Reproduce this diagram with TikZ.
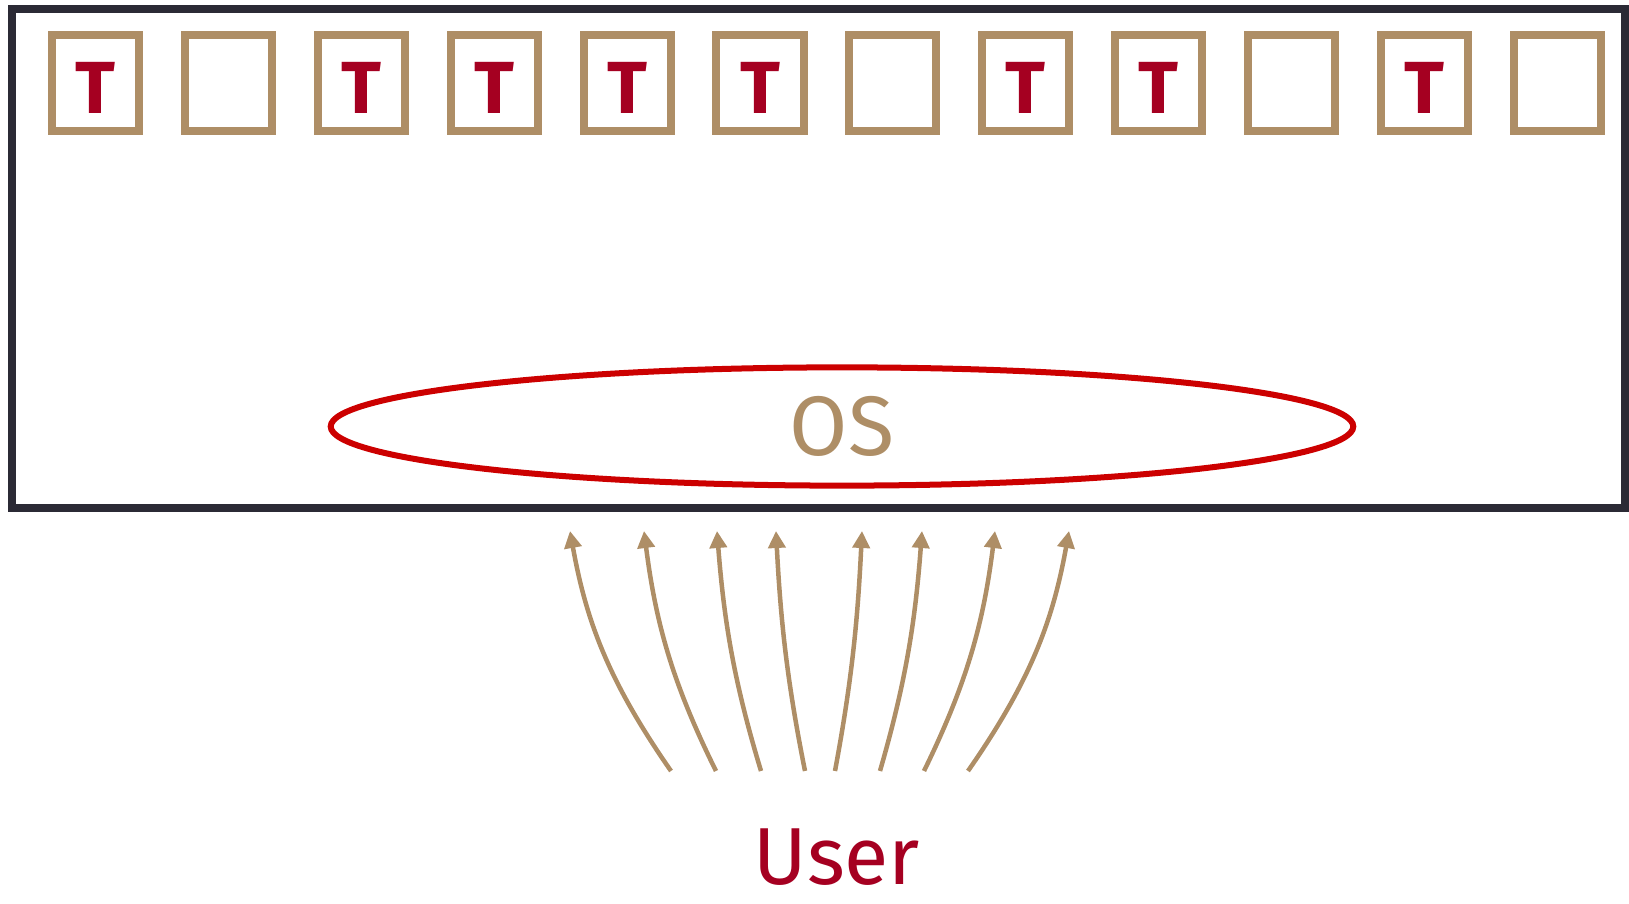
\documentclass[tikz,border=0pt]{standalone}
\usepackage{fontspec}
\setmainfont{Fira Sans}
\usetikzlibrary{arrows.meta,shapes.geometric}

\definecolor{framegray}{RGB}{43,42,53}
\definecolor{slotbrown}{RGB}{174,142,102}
\definecolor{osred}{RGB}{204,0,0}
\definecolor{userred}{RGB}{165,0,33}

\tikzset{
  slot/.style={draw=slotbrown, line width=0.08cm, minimum width=0.87cm,
    minimum height=0.96cm, inner sep=0pt},
  task/.style={text=userred, inner sep=0pt, font=\bfseries\fontsize{21}{21}\selectfont},
  call/.style={draw=slotbrown, line width=0.045cm,
    -{Triangle[width=0.17cm,length=0.17cm]}},
}

\begin{document}
\begin{tikzpicture}[x=0.01cm, y=-0.01cm]
    \useasboundingbox (0,0) rectangle (1629,904);

    % machine
    \draw[framegray, line width=0.08cm] (12,9) rectangle (1625,508);

    % memory slots
    \foreach \i in {1,...,12} {
        \node[slot] (slot\i) at ({95.5+132.9*(\i-1)},83) {};
    }
    % taken slots
    \foreach \i in {1,3,4,5,6,8,9,11} {
        \node[task, yshift=-0.05cm] (task\i) at (slot\i) {T};
    }

    % OS
    \node[ellipse, draw=osred, line width=0.06cm, minimum width=10.22cm,
        minimum height=1.11cm, text=slotbrown,
        font=\fontsize{24}{24}\selectfont] (os) at (842,426.5) {OS};

    % system calls
    \foreach \s/\d [count=\i] in {671/570, 716/644, 761/717, 805/776,
                                  835/862, 880/922, 924/995, 968/1069} {
        \coordinate (src\i) at (\s,771);
        \coordinate (dst\i) at (\d,531);
        \draw[call] (src\i) .. controls +({-0.62*(\s-\d)},-90) and +({0.16*(\s-\d)},90) .. (dst\i);
    }

    \node[text=userred, inner sep=0pt, font=\fontsize{23}{23}\selectfont] (user) at (837,857) {User};
\end{tikzpicture}
\end{document}
